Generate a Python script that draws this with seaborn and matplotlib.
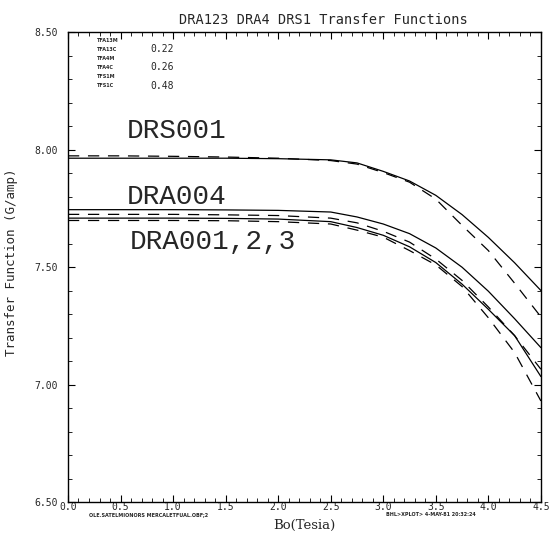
import numpy as np
import pandas as pd
import seaborn as sns
import matplotlib.pyplot as plt
from matplotlib.ticker import MultipleLocator, FormatStrFormatter

# field values (Tesla) and transfer functions
bo = [0.0, 0.5, 1.0, 1.5, 2.0, 2.5, 2.75, 3.0, 3.25, 3.5, 3.75, 4.0, 4.25, 4.5]
drs_meas = [7.963, 7.963, 7.963, 7.963, 7.961, 7.956, 7.943, 7.907, 7.866, 7.805, 7.723, 7.626, 7.518, 7.40]
drs_calc = [7.973, 7.973, 7.971, 7.968, 7.963, 7.953, 7.938, 7.902, 7.861, 7.789, 7.677, 7.570, 7.431, 7.288]
dra4_meas = [7.744, 7.744, 7.744, 7.743, 7.741, 7.734, 7.713, 7.683, 7.642, 7.581, 7.499, 7.397, 7.280, 7.157]
dra4_calc = [7.724, 7.724, 7.724, 7.722, 7.719, 7.708, 7.688, 7.652, 7.606, 7.534, 7.443, 7.330, 7.208, 7.065]
dra1_meas = [7.708, 7.708, 7.708, 7.707, 7.704, 7.693, 7.668, 7.635, 7.586, 7.519, 7.427, 7.320, 7.208, 7.034]
dra1_calc = [7.698, 7.698, 7.698, 7.697, 7.693, 7.683, 7.657, 7.627, 7.570, 7.509, 7.417, 7.284, 7.136, 6.930]

fit_names = ["TFA13M", "TFA13C", "TFA4M", "TFA4C", "TFS1M", "TFS1C"]
fit_values = ["", "0.22", "", "0.26", "", "0.48"]

series = {
    "DRS meas": drs_meas, "DRS calc": drs_calc,
    "DRA4 meas": dra4_meas, "DRA4 calc": dra4_calc,
    "DRA1 meas": dra1_meas, "DRA1 calc": dra1_calc,
}
rows = []
for name, vals in series.items():
    for b, v in zip(bo, vals):
        rows.append({"Bo": b, "TF": v, "curve": name,
                     "kind": "calc" if "calc" in name else "meas"})
df = pd.DataFrame(rows)

sns.set_style("ticks")
plt.rcParams['font.family'] = ['DejaVu Sans']

fig = plt.figure(figsize=(5.59, 5.38), dpi=100)
ax = fig.add_axes([0.1216, 0.0669, 0.846, 0.8736])

sns.lineplot(data=df, x="Bo", y="TF", units="curve", estimator=None,
             style="kind", dashes={"meas": "", "calc": (9, 7)},
             color="black", linewidth=0.9, legend=False, ax=ax)

ax.set_xlim(0, 4.5)
ax.set_ylim(6.5, 8.5)
ax.xaxis.set_major_locator(MultipleLocator(0.5))
ax.xaxis.set_minor_locator(MultipleLocator(0.1))
ax.yaxis.set_major_locator(MultipleLocator(0.5))
ax.yaxis.set_minor_locator(MultipleLocator(0.1))
ax.xaxis.set_major_formatter(FormatStrFormatter("%.1f"))
ax.yaxis.set_major_formatter(FormatStrFormatter("%.2f"))
ax.tick_params(which="both", direction="in", top=True, right=True, color="black")
ax.tick_params(which="major", length=5, width=0.8, labelsize=7)
ax.tick_params(which="minor", length=3, width=0.6)
ax.tick_params(axis="x", which="major", pad=0)
ax.tick_params(axis="y", which="major", pad=7)
for lab in ax.get_xticklabels() + ax.get_yticklabels():
    lab.set_family("DejaVu Sans Mono")
for s in ax.spines.values():
    s.set_linewidth(1.0)
    s.set_color("black")

ax.set_title("DRA123 DRA4 DRS1 Transfer Functions", family="DejaVu Sans Mono",
             fontsize=9.8, pad=6, x=0.54)
ax.set_xlabel("Bo(Tesia)", family="DejaVu Serif", fontsize=9.5)
ax.xaxis.set_label_coords(0.5, -0.037)
ax.set_ylabel("Transfer Function (G/amp)", family="DejaVu Sans Mono", fontsize=9)
ax.yaxis.set_label_coords(-0.105, 0.51)

# curve labels
ax.text(0.56, 8.079, "DRS001", family="Liberation Mono", fontsize=20, va="center")
ax.text(0.56, 7.80, "DRA004", family="Liberation Mono", fontsize=20, va="center")
ax.text(0.59, 7.606, "DRA001,2,3", family="Liberation Mono", fontsize=20, va="center")

# fit parameter block
for i, (n, v) in enumerate(zip(fit_names, fit_values)):
    y = 8.466 - i * 0.039
    ax.text(0.276, y, n, fontsize=3.5, fontweight="bold", va="center")
    ax.text(0.78, y, v, family="DejaVu Sans Mono", fontsize=7, va="center")

fig.text(0.16, 0.043, "OLE.SATELMIONORS MERCALETFUAL.OBF;2", fontsize=3.5,
         fontweight="bold", va="center")
fig.text(0.69, 0.043, "BHL>XPLOT> 4-MAY-81 20:32:24", fontsize=3.5,
         fontweight="bold", va="center")

fig.savefig("out.png", dpi=100)
